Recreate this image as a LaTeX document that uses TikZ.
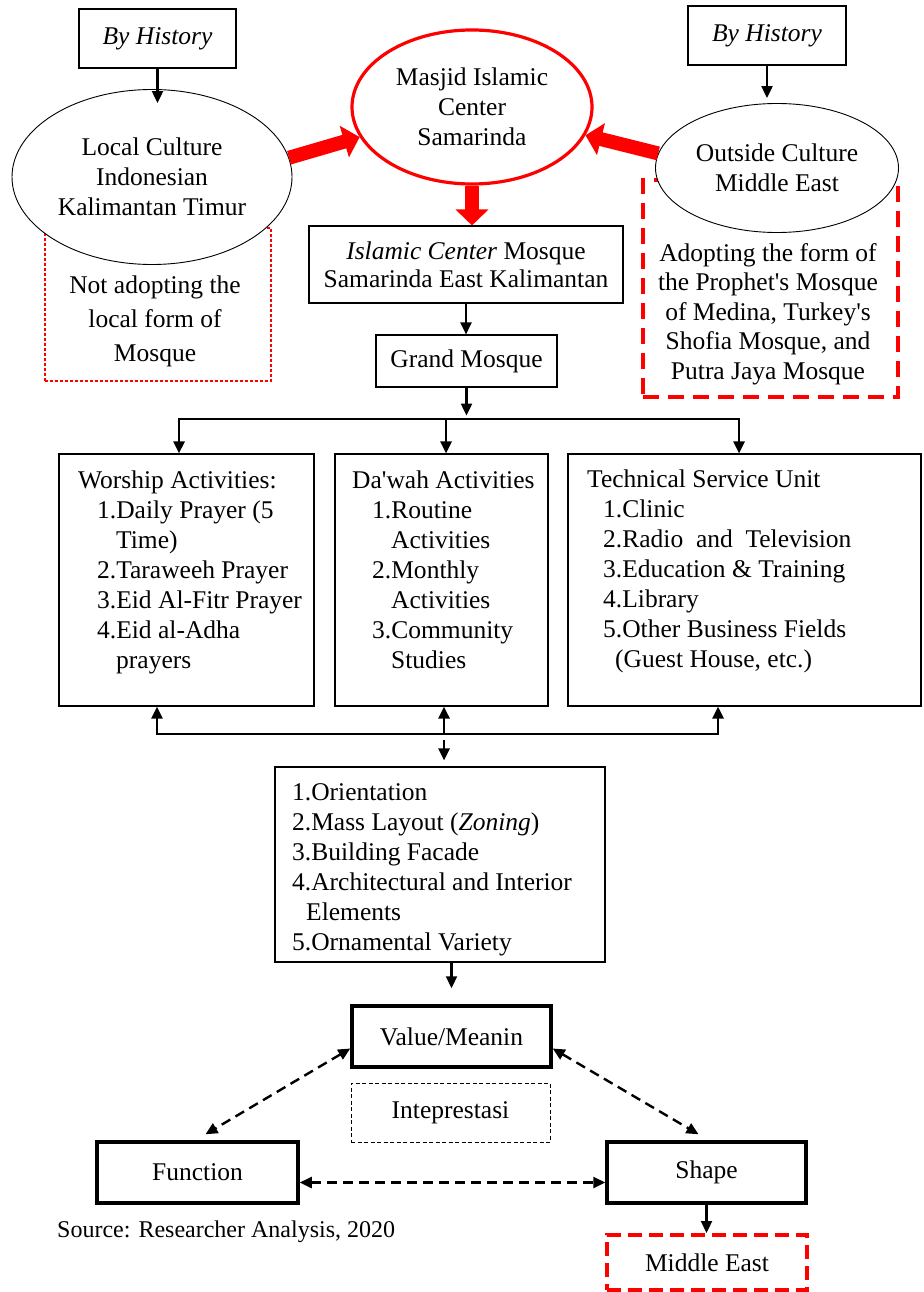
\documentclass[tikz,border=0pt]{standalone}
\usepackage{fontspec}
\setmainfont{Liberation Serif}
\usetikzlibrary{shapes.geometric,arrows.meta,calc}
\newcommand\dfont{\fontsize{25.5}{30}\selectfont}
\begin{document}
\begin{tikzpicture}[x=1pt,y=-1pt,
  bx/.style={draw, line width=1.1pt, inner sep=0pt, align=center, font=\dfont},
  ell/.style={ellipse, draw, fill=white, inner sep=0pt, align=center, font=\dfont},
  arr/.style={line width=2.2pt, -{Triangle[length=12pt,width=11pt]}},
  arrc/.style={line width=2.6pt, line join=miter, -{Triangle[length=12pt,width=11pt]}},
  bigred/.style={red, line width=14pt, -{Triangle[length=16pt,width=32pt]}},
  thickbox/.style={draw, line width=3.5pt, inner sep=0pt, font=\dfont},
  dasharr/.style={line width=2.4pt, dash pattern=on 10pt off 6pt, {Triangle[length=12pt,width=11pt]}-{Triangle[length=12pt,width=11pt]}},
  listtext/.style={anchor=base west, inner sep=0pt, font=\dfont},
]
\useasboundingbox (0,0) rectangle (923,1292);

% red frames behind ellipses
\node[draw=red, line width=1.1pt, dash pattern=on 3pt off 2pt, minimum width=226pt, minimum height=153pt, inner sep=0pt] (nb) at (158,304.5) {};
\node[draw=red, line width=4.5pt, dash pattern=on 16pt off 9pt, minimum width=255pt, minimum height=217pt, inner sep=0pt] (ab) at (770.5,288.5) {};

% top boxes
\node[bx, minimum width=157pt, minimum height=59pt, font=\dfont\itshape] (hl) at (157.5,38.5) {By History};
\node[bx, minimum width=158pt, minimum height=59pt, font=\dfont\itshape] (hr) at (767,35.5) {By History};

% ellipses
\node[ell, line width=0.9pt, minimum width=280pt, minimum height=175pt] (lc) at (152,177) {Local Culture\\Indonesian\\Kalimantan Timur};
\node[ell, line width=0.9pt, minimum width=243pt, minimum height=129pt] (ro) at (777,168) {Outside Culture\\Middle East};
\node[ell, draw=red, line width=3.2pt, minimum width=240pt, minimum height=154pt] (mc) at (472,107) {Masjid Islamic\\Center\\Samarinda};

% texts in red frames
\node[inner sep=0pt, align=center, font=\fontsize{25.5}{34}\selectfont] (nbT) at (155,321) {Not adopting the\\local form of\\Mosque};
\node[inner sep=0pt, align=center, font=\fontsize{25.5}{29.5}\selectfont] (abT) at (768,314) {Adopting the form of\\the Prophet\textquotesingle s Mosque\\of Medina, Turkey\textquotesingle s\\Shofia Mosque, and\\Putra Jaya Mosque};

% central column
\node[bx, minimum width=314pt, minimum height=77pt, font=\fontsize{25.5}{28}\selectfont] (ic) at (466,264.5) {\textit{Islamic Center} Mosque\\Samarinda East Kalimantan};
\node[bx, minimum width=181pt, minimum height=52pt] (gm) at (466.5,361) {Grand Mosque};

% three activity boxes
\node[bx, minimum width=255pt, minimum height=252pt] (wa) at (186.5,580) {};
\node[bx, minimum width=213pt, minimum height=252pt] (dw) at (441.5,580) {};
\node[bx, minimum width=353pt, minimum height=252pt] (ts) at (744.5,580) {};

\node[listtext] (waT) at (78,488) {\parbox[t]{260pt}{\raggedright
Worship Activities:\\
\hspace*{19pt}1.Daily Prayer (5\\
\hspace*{38pt}Time)\\
\hspace*{19pt}2.Taraweeh Prayer\\
\hspace*{19pt}3.Eid Al-Fitr Prayer\\
\hspace*{19pt}4.Eid al-Adha\\
\hspace*{38pt}prayers}};
\node[listtext] (dwT) at (352,488) {\parbox[t]{220pt}{\raggedright
Da\textquotesingle wah Activities\\
\hspace*{20pt}1.Routine\\
\hspace*{39pt}Activities\\
\hspace*{20pt}2.Monthly\\
\hspace*{39pt}Activities\\
\hspace*{20pt}3.Community\\
\hspace*{39pt}Studies}};
\node[listtext] (tsT) at (587,487) {\parbox[t]{340pt}{\raggedright
Technical Service Unit\\
\hspace*{16pt}1.Clinic\\
\hspace*{16pt}2.Radio \ and \ Television\\
\hspace*{16pt}3.Education \& Training\\
\hspace*{16pt}4.Library\\
\hspace*{16pt}5.Other Business Fields\\
\hspace*{28pt}(Guest House, etc.)}};

% elements box
\node[bx, minimum width=330pt, minimum height=195pt] (lb) at (440,864.5) {};
\node[listtext] (lbT) at (292,800) {\parbox[t]{320pt}{\raggedright
1.Orientation\\
2.Mass Layout (\textit{Zoning})\\
3.Building Facade\\
4.Architectural and Interior\\
\hspace*{14pt}Elements\\
5.Ornamental Variety}};

% bottom triangle
\node[thickbox, minimum width=199pt, minimum height=61pt] (vm) at (451.5,1036.5) {Value/Meanin};
\node[draw, line width=1pt, dash pattern=on 4pt off 2.5pt, inner sep=0pt, font=\dfont, minimum width=199pt, minimum height=59pt] (ip) at (450.5,1112.5) {Inteprestasi};
\node[thickbox, minimum width=201pt, minimum height=61pt] (fn) at (197.5,1172.5) {Function};
\node[thickbox, minimum width=199pt, minimum height=61pt] (sh) at (706.5,1172.5) {Shape};
\node[draw=red, line width=4pt, dash pattern=on 14pt off 7pt, inner sep=0pt, font=\dfont, minimum width=200pt, minimum height=55pt] (me) at (707,1262.5) {Middle East};
\node[anchor=west, inner sep=0pt, font=\fontsize{24}{28}\selectfont] (src) at (57,1232) {Source: Researcher Analysis, 2020};

% red block arrows
\draw[bigred] (lc.8) -- (mc.195);
\draw[bigred] (ro.173) -- (mc.346);
\draw[bigred] (mc.south) -- (mc.south |- ic.north);

% black arrows top
\draw[arr] (hl.south) -- ($(hl.south |- lc.north)+(0,14)$);
\draw[arr] (hr.south) -- ($(hr.south |- ro.north)+(0,-5)$);
\draw[arr] (ic.south) -- (ic.south |- gm.north);
\draw[arr] (gm.south) -- ($(gm.south)+(0,28)$);

% branch to activity boxes
\coordinate (b1) at (179,419);
\coordinate (b2) at (446,419);
\coordinate (b3) at (739,419);
\draw[arrc] (b2) -- (b1) -- (b1 |- wa.north);
\draw[arrc] (b2) -- (b3) -- (b3 |- ts.north);
\draw[arrc] (b2) -- (b2 |- dw.north);

% collector below activity boxes
\coordinate (u1) at (157,734);
\coordinate (u2) at (444,734);
\coordinate (u3) at (718,734);
\draw[arrc] (u2) -- (u1) -- (u1 |- wa.south);
\draw[arrc] (u2) -- (u3) -- (u3 |- ts.south);
\draw[arrc] (u2) -- (u2 |- dw.south);
\draw[arrc] ($(u2)+(0,6)$) -- ($(u2 |- lb.north)+(0,-6)$);

% to value box
\draw[arr] (lb.south -| vm.north) -- ($(vm.north)+(0,-16)$);

% dashed relations
\draw[dasharr] ($(vm.west)+(0,12)$) -- ($(fn.north)+(8,-6)$);
\draw[dasharr] ($(vm.east)+(0,12)$) -- ($(sh.north)+(-8,-6)$);
\draw[dasharr] ($(fn.east)+(0,10)$) -- ($(sh.west)+(0,10)$);

\draw[arr] (sh.south) -- (sh.south |- me.north);
\end{tikzpicture}
\end{document}
